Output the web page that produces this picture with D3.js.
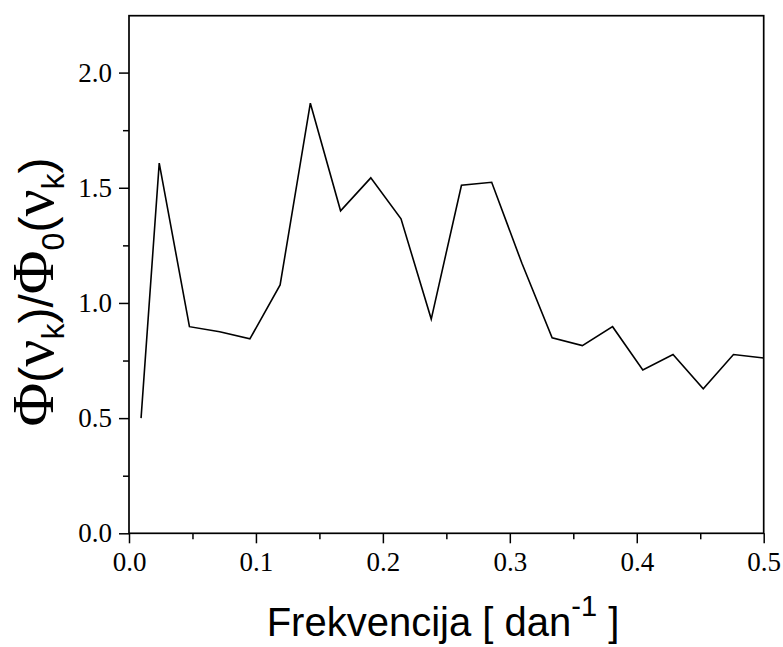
<!DOCTYPE html>
<html>
    <head>
        <script src="https://d3js.org/d3.v7.min.js"></script>
        <style>
            body { margin: 0; background: #fff; }
        </style>
    </head>
    <body>
    <script>
        var w = 783;
        var h = 647;

        // frequencies (1/day) and ratio values
        var freq = [0.0095, 1/42, 2/42, 3/42, 4/42, 5/42, 6/42, 7/42, 8/42, 9/42, 10/42,
                    11/42, 12/42, 13/42, 14/42, 15/42, 16/42, 17/42, 18/42, 19/42, 20/42, 21/42];
        var ratio = [0.50, 1.607, 0.897, 0.875, 0.844, 1.078, 1.867, 1.40, 1.543, 1.365, 0.93,
                     1.511, 1.524, 1.172, 0.849, 0.815, 0.897, 0.709, 0.776, 0.627, 0.776, 0.761];

        var xTicks = [0.0, 0.1, 0.2, 0.3, 0.4, 0.5];
        var xMinor = [0.05, 0.15, 0.25, 0.35, 0.45];
        var yTicks = [0.0, 0.5, 1.0, 1.5, 2.0];
        var yMinor = [0.25, 0.75, 1.25, 1.75];

        var m = {left: 129, right: 19.3, top: 15.7, bottom: 113.7};
        var serif = '"Liberation Serif", "Times New Roman", serif';
        var sans = '"Liberation Sans", Arial, sans-serif';

        var svg = d3.select('body').append('svg')
            .attr('width', w)
            .attr('height', h);

        var x = d3.scaleLinear().domain([0, 0.5]).range([m.left, w - m.right]);
        var y = d3.scaleLinear().domain([0, 2.247]).range([h - m.bottom, m.top]);

        // minor ticks
        svg.append('g')
            .attr('transform', 'translate(0,' + (h - m.bottom) + ')')
            .call(d3.axisBottom(x).tickValues(xMinor).tickSize(6).tickFormat(''))
            .call(function(g){ g.select('.domain').remove() });
        svg.append('g')
            .attr('transform', 'translate(' + m.left + ',0)')
            .call(d3.axisLeft(y).tickValues(yMinor).tickSize(6).tickFormat(''))
            .call(function(g){ g.select('.domain').remove() });

        // major ticks
        var gx = svg.append('g')
            .attr('transform', 'translate(0,' + (h - m.bottom) + ')')
            .call(d3.axisBottom(x).tickValues(xTicks).tickSize(10).tickPadding(6).tickFormat(d3.format('.1f')));
        gx.select('.domain').remove();

        var gy = svg.append('g')
            .attr('transform', 'translate(' + m.left + ',0)')
            .call(d3.axisLeft(y).tickValues(yTicks).tickSize(10).tickPadding(7).tickFormat(d3.format('.1f')));
        gy.select('.domain').remove();

        svg.selectAll('.tick line').attr('stroke', '#000').attr('stroke-width', 1.5);
        svg.selectAll('.tick text')
            .attr('fill', '#000')
            .style('font-family', serif)
            .style('font-size', '27px');
        gx.selectAll('.tick text').attr('dy', '0.82em');

        // frame
        svg.append('rect')
            .attr('x', m.left)
            .attr('y', m.top)
            .attr('width', w - m.left - m.right)
            .attr('height', h - m.top - m.bottom)
            .attr('fill', 'none')
            .attr('stroke', '#000')
            .attr('stroke-width', 1.7);

        var lineFunc = d3.line()
            .x(function(d, i){ return x(freq[i]) })
            .y(function(d){ return y(d) });

        svg.append('path')
            .attr('d', lineFunc(ratio))
            .attr('fill', 'none')
            .attr('stroke', '#000')
            .attr('stroke-width', 1.6)
            .attr('stroke-linejoin', 'miter');

        // x axis title
        var xt = svg.append('text')
            .attr('x', 443)
            .attr('y', 636)
            .attr('text-anchor', 'middle')
            .style('font-family', sans)
            .style('font-size', '40px')
            .attr('fill', '#000');
        xt.append('tspan').text('Frekvencija [ dan');
        xt.append('tspan').attr('dy', -20).style('font-size', '29px').text('-1');
        xt.append('tspan').attr('dy', 20).text(' ]');

        // y axis title
        var yt = svg.append('text')
            .attr('transform', 'translate(53,292) rotate(-90)')
            .attr('text-anchor', 'middle')
            .style('font-family', sans)
            .style('font-size', '48px')
            .attr('fill', '#000');
        var parts = [
            ['\u03A6', 'g', 0], ['(', null, 0], ['\u03BD', 'g', 0], ['k', null, 1], [')', null, -1],
            ['/', null, 0], ['\u03A6', 'g', 0], ['0', null, 1], ['(', null, -1], ['\u03BD', 'g', 0],
            ['k', null, 1], [')', null, -1]
        ];
        parts.forEach(function(p){
            var t = yt.append('tspan').text(p[0]);
            if (p[1]) t.style('font-family', serif).style('font-size', '60px');
            if (p[2] === 1) t.attr('dy', 11).style('font-size', '32px');
            if (p[2] === -1) t.attr('dy', -11);
        });
    </script>
    </body>
</html>
